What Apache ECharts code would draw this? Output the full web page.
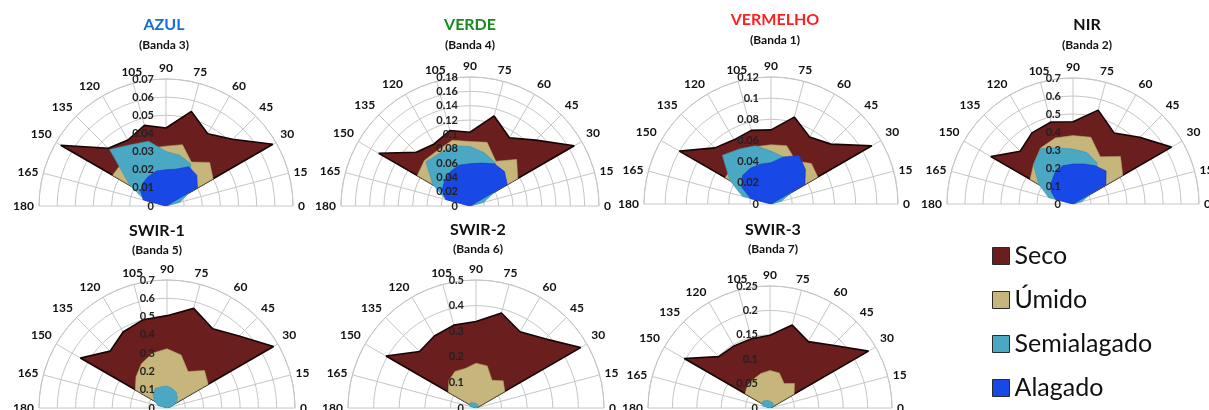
<!DOCTYPE html>
<html>
<head>
<meta charset="utf-8">
<script src="https://cdn.jsdelivr.net/npm/echarts@6/dist/echarts.min.js"></script>
<style>
  html, body { margin: 0; padding: 0; background: #ffffff; }
  #chart { width: 1209px; height: 410px; }
</style>
</head>
<body>
<div id="chart"></div>
<script>
// View angles (degrees) shared by every band
const ANGLES = [0, 15, 30, 45, 60, 75, 90, 105, 120, 135, 150, 165, 180];
const CLASSES = ['Seco', 'Úmido', 'Semialagado', 'Alagado'];

// AZUL (Banda 3)
const azulSeco  = [0, 0, 0.068, 0.052, 0.046, 0.054, 0.043, 0.046, 0.042, 0.045, 0.067, 0, 0];
const azulUmido = [0, 0, 0.030, 0.034, 0.028, 0.035, 0.033, 0.033, 0.033, 0.034, 0.034, 0, 0];
const azulSemi  = [0, 0.008, 0.015, 0.020, 0.027, 0.029, 0.030, 0.037, 0.039, 0.044, 0.023, 0.012, 0];
const azulAlag  = [0, 0, 0.020, 0.024, 0.025, 0.021, 0.020, 0.020, 0.019, 0.018, 0.016, 0.013, 0];

// VERDE (Banda 4)
const verdeSeco  = [0, 0, 0.168, 0.130, 0.110, 0.130, 0.103, 0.109, 0.100, 0.106, 0.147, 0, 0];
const verdeUmido = [0, 0, 0.077, 0.092, 0.072, 0.092, 0.090, 0.095, 0.090, 0.090, 0.085, 0, 0];
const verdeSemi  = [0, 0.020, 0.040, 0.055, 0.070, 0.077, 0.083, 0.087, 0.085, 0.087, 0.060, 0.035, 0];
const verdeAlag  = [0, 0, 0.060, 0.068, 0.068, 0.062, 0.059, 0.059, 0.055, 0.050, 0.045, 0.035, 0];

// VERMELHO (Banda 1)
const vermSeco  = [0, 0, 0.110, 0.080, 0.073, 0.085, 0.070, 0.072, 0.070, 0.075, 0.100, 0, 0];
const vermUmido = [0, 0, 0.051, 0.054, 0.047, 0.057, 0.056, 0.056, 0.055, 0.050, 0.050, 0, 0];
const vermSemi  = [0, 0.010, 0.025, 0.035, 0.045, 0.046, 0.050, 0.057, 0.060, 0.065, 0.045, 0.028, 0];
const vermAlag  = [0, 0, 0.037, 0.046, 0.053, 0.046, 0.039, 0.039, 0.039, 0.038, 0.032, 0.020, 0];

// NIR (Banda 2)
const nirSeco  = [0, 0, 0.632, 0.524, 0.456, 0.540, 0.457, 0.472, 0.456, 0.415, 0.527, 0, 0];
const nirUmido = [0, 0, 0.319, 0.373, 0.303, 0.384, 0.380, 0.380, 0.360, 0.310, 0.275, 0, 0];
const nirSemi  = [0, 0.050, 0.120, 0.200, 0.265, 0.296, 0.305, 0.323, 0.356, 0.310, 0.220, 0.140, 0];
const nirAlag  = [0, 0, 0.211, 0.260, 0.245, 0.230, 0.222, 0.220, 0.200, 0.170, 0.140, 0.100, 0];

// SWIR-1 (Banda 5)
const swir1Seco  = [0, 0, 0.673, 0.557, 0.500, 0.564, 0.505, 0.500, 0.480, 0.440, 0.547, 0, 0];
const swir1Umido = [0, 0, 0.260, 0.290, 0.230, 0.300, 0.324, 0.310, 0.280, 0.240, 0.200, 0, 0];
const swir1Semi  = [0, 0.020, 0.060, 0.080, 0.100, 0.110, 0.120, 0.120, 0.125, 0.110, 0.080, 0.050, 0];
const swir1Alag  = [0, 0, 0, 0, 0, 0, 0, 0, 0, 0, 0, 0, 0];

// SWIR-2 (Banda 6)
const swir2Seco  = [0, 0, 0.472, 0.382, 0.344, 0.384, 0.338, 0.335, 0.325, 0.312, 0.406, 0, 0];
const swir2Umido = [0, 0, 0.130, 0.150, 0.125, 0.170, 0.175, 0.160, 0.165, 0.150, 0.125, 0, 0];
const swir2Semi  = [0, 0.005, 0.010, 0.012, 0.015, 0.015, 0.018, 0.020, 0.025, 0.030, 0.032, 0.025, 0];
const swir2Alag  = [0, 0, 0, 0, 0, 0, 0, 0, 0, 0, 0, 0, 0];

// SWIR-3 (Banda 7)
const swir3Seco  = [0, 0, 0.233, 0.182, 0.157, 0.176, 0.149, 0.147, 0.147, 0.149, 0.203, 0, 0];
const swir3Umido = [0, 0, 0.057, 0.071, 0.058, 0.074, 0.077, 0.073, 0.068, 0.065, 0.059, 0, 0];
const swir3Semi  = [0, 0.004, 0.008, 0.010, 0.012, 0.013, 0.014, 0.016, 0.018, 0.020, 0.020, 0.015, 0];
const swir3Alag  = [0, 0, 0, 0, 0, 0, 0, 0, 0, 0, 0, 0, 0];

// Panel titles, radial scale (max / step) and series per band
const TITLES    = ['AZUL', 'VERDE', 'VERMELHO', 'NIR', 'SWIR-1', 'SWIR-2', 'SWIR-3'];
const SUBTITLES = ['(Banda 3)', '(Banda 4)', '(Banda 1)', '(Banda 2)', '(Banda 5)', '(Banda 6)', '(Banda 7)'];
const R_MAX     = [0.07, 0.18, 0.12, 0.7, 0.7, 0.5, 0.25];
const R_STEP    = [0.01, 0.02, 0.02, 0.1, 0.1, 0.1, 0.05];
const BAND_DATA = [
  [azulSeco, azulUmido, azulSemi, azulAlag],
  [verdeSeco, verdeUmido, verdeSemi, verdeAlag],
  [vermSeco, vermUmido, vermSemi, vermAlag],
  [nirSeco, nirUmido, nirSemi, nirAlag],
  [swir1Seco, swir1Umido, swir1Semi, swir1Alag],
  [swir2Seco, swir2Umido, swir2Semi, swir2Alag],
  [swir3Seco, swir3Umido, swir3Semi, swir3Alag]
];

// Panel geometry: centre of the half-disc, radius, title position
const PANELS = [
  { cx: 166,  cy: 206, r: 127, tx: 164,  ty: 25,  sy: 45,  tc: '#1470d2' },
  { cx: 470,  cy: 206, r: 129, tx: 470,  ty: 25,  sy: 45,  tc: '#178a1e' },
  { cx: 771,  cy: 204, r: 127, tx: 775,  ty: 20,  sy: 40,  tc: '#ff2020' },
  { cx: 1073, cy: 204, r: 126, tx: 1087, ty: 25,  sy: 45,  tc: '#111111' },
  { cx: 167,  cy: 408, r: 128, tx: 157,  ty: 231, sy: 250, tc: '#111111' },
  { cx: 476,  cy: 408, r: 128, tx: 478,  ty: 230, sy: 249, tc: '#111111' },
  { cx: 770,  cy: 408, r: 122, tx: 773,  ty: 230, sy: 249, tc: '#111111' }
];

const FILL  = ['#6b1e1e', '#c6b67c', '#4aa8c4', '#1848e6'];
const EDGE  = ['#150404', '#b3a267', '#3d95b0', '#1238c4'];
const GRID  = '#c6c6c6';
const FONT  = 'Lato, "Open Sans", sans-serif';

function fmt(v) { return String(Math.round(v * 1000) / 1000); }

const polar = [], angleAxis = [], radiusAxis = [], series = [], graphic = [];

PANELS.forEach((p, i) => {
  const main = 2 * i, aux = 2 * i + 1;
  polar.push({ center: [p.cx, p.cy], radius: [0, p.r] });
  polar.push({ center: [p.cx, p.cy], radius: [0, p.r] });

  // Half-circle angle axis: 0 at the right, 90 at the top, 180 at the left
  angleAxis.push({
    polarIndex: main, type: 'value', min: 0, max: 180, interval: 15,
    startAngle: 0, endAngle: 180, clockwise: false,
    axisLine: { lineStyle: { color: GRID, width: 1 } },
    axisTick: { show: false },
    axisLabel: { margin: 5, color: '#111', fontWeight: 'bold', fontSize: 12, fontFamily: FONT },
    splitLine: { lineStyle: { color: GRID, width: 1 } }
  });
  // Hidden angle axis used only to stand the radial labels upright
  angleAxis.push({ polarIndex: aux, type: 'value', min: 0, max: 360, startAngle: 90, show: false });

  radiusAxis.push({
    polarIndex: main, type: 'value', min: 0, max: R_MAX[i], interval: R_STEP[i],
    axisLine: { show: false }, axisTick: { show: false }, axisLabel: { show: false },
    splitLine: { lineStyle: { color: GRID, width: 1 } }
  });
  radiusAxis.push({
    polarIndex: aux, type: 'value', min: 0, max: R_MAX[i], interval: R_STEP[i], z: 10,
    axisLine: { show: false }, axisTick: { show: false }, splitLine: { show: false },
    axisLabel: { margin: 12, color: '#222', fontWeight: 'bold', fontSize: 11, fontFamily: FONT, formatter: fmt }
  });

  BAND_DATA[i].forEach((vals, k) => {
    series.push({
      type: 'line', name: CLASSES[k], coordinateSystem: 'polar', polarIndex: main,
      data: vals.map((v, j) => [v, ANGLES[j]]),
      showSymbol: false, symbol: 'none', silent: true, animation: false, z: 2 + k,
      lineStyle: { color: EDGE[k], width: k === 0 ? 1.6 : 0.6 },
      itemStyle: { color: FILL[k] },
      areaStyle: { color: FILL[k], opacity: 1 }
    });
  });

  graphic.push({
    type: 'text', x: p.tx, y: p.ty, silent: true,
    style: { text: TITLES[i], fill: p.tc, font: 'bold 16px ' + FONT,
             align: 'center', verticalAlign: 'middle', textAlign: 'center', textVerticalAlign: 'middle' }
  });
  graphic.push({
    type: 'text', x: p.tx, y: p.sy, silent: true,
    style: { text: SUBTITLES[i], fill: '#111', font: 'bold 12px ' + FONT,
             align: 'center', verticalAlign: 'middle', textAlign: 'center', textVerticalAlign: 'middle' }
  });
});

const chart = echarts.init(document.getElementById('chart'), null, { renderer: 'canvas' });
chart.setOption({
  backgroundColor: '#ffffff',
  animation: false,
  polar, angleAxis, radiusAxis, series, graphic,
  legend: {
    orient: 'vertical', left: 987, top: 238,
    itemWidth: 17, itemHeight: 17, itemGap: 18, icon: 'rect',
    selectedMode: false,
    textStyle: { fontSize: 25, lineHeight: 26, color: '#111', fontFamily: FONT },
    data: CLASSES.map((n, k) => ({ name: n, itemStyle: { color: FILL[k], borderColor: '#2a2a2a', borderWidth: 1 } }))
  }
});
</script>
</body>
</html>
